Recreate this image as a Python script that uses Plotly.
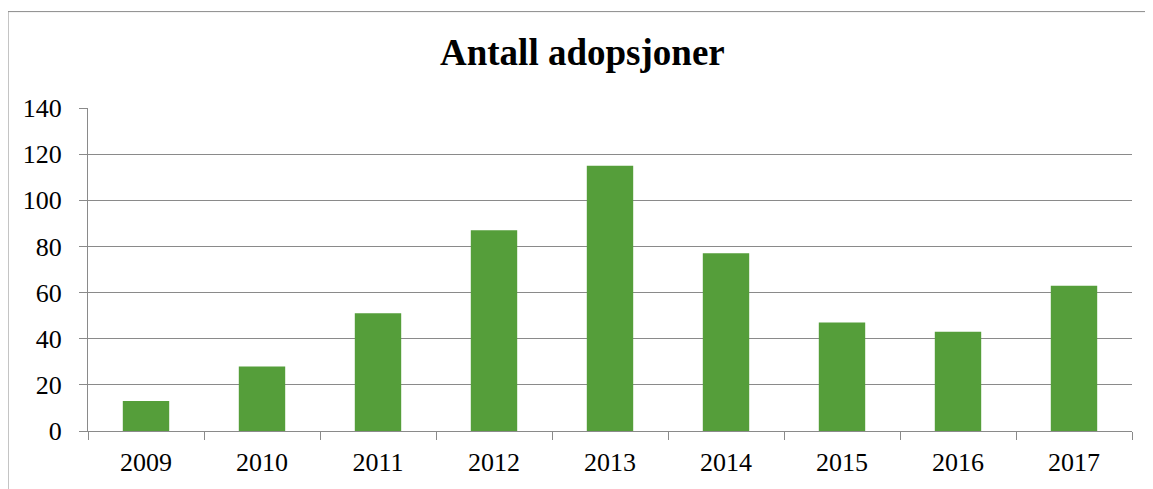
import plotly.graph_objects as go

years = ["2009", "2010", "2011", "2012", "2013", "2014", "2015", "2016", "2017"]
adopsjoner = [13, 28, 51, 87, 115, 77, 47, 43, 63]
y_ticks = [0, 20, 40, 60, 80, 100, 120, 140]
title_text = "Antall adopsjoner"

# page body has an 8px margin, so figure coords = screen coords - 8
OFF = 8
W, H = 1145, 481
L, T = 88 - OFF, 108 - OFF
R = W - (1132 - OFF)
B = H - (433 - OFF)
pw = W - L - R
ph = H - T - B

def px_x(x):
    return (x - OFF - L) / pw

def px_y(y):
    return (H - B - (y - OFF)) / ph

gray = "#8a8a8a"
font_fam = "Liberation Serif, Times New Roman, serif"

fig = go.Figure(
    go.Bar(x=years, y=adopsjoner, marker=dict(color="#559E3A", line=dict(width=0)))
)

fig.update_layout(
    width=W, height=H,
    margin=dict(l=L, r=R, t=T, b=B),
    paper_bgcolor="white", plot_bgcolor="white",
    bargap=0.6,
    showlegend=False,
    font=dict(family=font_fam, size=26, color="black"),
)

fig.update_xaxes(
    type="category",
    showline=True, linecolor=gray, linewidth=1,
    ticks="outside", ticklen=8, tickcolor=gray, tickwidth=1,
    tickson="boundaries",
    showgrid=False,
    tickfont=dict(family=font_fam, size=26, color="black"),
    ticklabelstandoff=8,
)
fig.update_yaxes(
    range=[0, 140], tickvals=y_ticks,
    showline=True, linecolor=gray, linewidth=1,
    ticks="outside", ticklen=8, tickcolor=gray, tickwidth=1,
    showgrid=True, gridcolor=gray, gridwidth=1,
    zeroline=False,
    tickfont=dict(family=font_fam, size=26, color="black"),
    ticklabelstandoff=12,
)

# outer chart frame (continues past right/bottom edges)
fig.add_shape(
    type="rect", xref="paper", yref="paper",
    x0=px_x(8), x1=px_x(1153 + 30), y0=px_y(489 + 30), y1=px_y(11),
    line=dict(color=gray, width=1), fillcolor="rgba(0,0,0,0)", layer="below",
)

fig.add_annotation(
    text="<b>" + title_text + "</b>",
    xref="paper", yref="paper",
    x=px_x(582), y=px_y(52), xanchor="center", yanchor="middle",
    showarrow=False,
    font=dict(family=font_fam, size=37, color="black"),
)

fig.write_html("out.html")
